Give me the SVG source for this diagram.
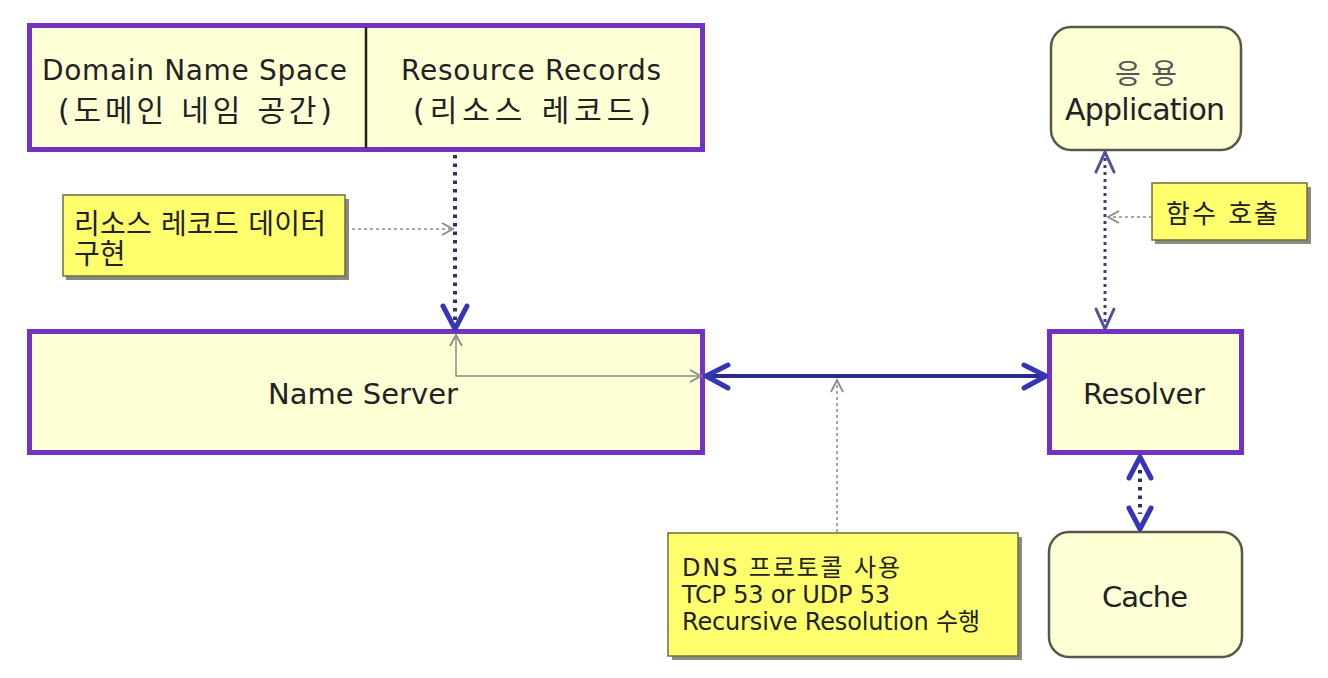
<svg xmlns="http://www.w3.org/2000/svg" width="1328" height="678" viewBox="0 0 1328 678">
<defs>
<style>
.box{fill:#FFFFD6;stroke:#7432C2;stroke-width:5}
.rbox{fill:#FFFFD6;stroke:#58584a;stroke-width:2.5}
.note{fill:#FFFF6E;stroke:#6E6E40;stroke-width:1.5}
.shadow{fill:#8a8a80}
.t{font-family:"DejaVu Sans","Noto Sans CJK KR",sans-serif;fill:#222;text-anchor:middle}
.tl{font-family:"DejaVu Sans","Noto Sans CJK KR",sans-serif;fill:#222}
.blueline{stroke:#2A2A88;stroke-width:4;fill:none}
.dotline{stroke:#303068;stroke-width:4;stroke-dasharray:3.5 5;fill:none;stroke-linecap:butt}
.dotthin{stroke:#404070;stroke-width:3;stroke-dasharray:3 4;fill:none}
.gray{stroke:#8a8a8a;stroke-width:1.5;fill:none}
.graydash{stroke:#8a8a8a;stroke-width:1.5;stroke-dasharray:3 3;fill:none}
.head{stroke:#3535B5;stroke-width:5;fill:none;stroke-linecap:round;stroke-linejoin:round}
.headthin{stroke:#50509A;stroke-width:3;fill:none;stroke-linecap:round;stroke-linejoin:round}
.ghead{stroke:#8a8a8a;stroke-width:1.8;fill:none}
</style>
</defs>
<rect width="1328" height="678" fill="#ffffff"/>

<g id="top-box">
<rect class="box" x="29.5" y="25.5" width="673" height="124"/>
<line x1="366" y1="27" x2="366" y2="148" stroke="#222" stroke-width="2.5"/>
<text class="t" x="194.5" y="80" font-size="28" textLength="305">Domain Name Space</text>
<text class="t" x="195" y="121" font-size="30" textLength="274">(도메인 네임 공간)</text>
<text class="t" x="531" y="80" font-size="28" textLength="260">Resource Records</text>
<text class="t" x="532" y="121" font-size="30" textLength="238">(리소스 레코드)</text>
</g>

<g id="application">
<rect class="rbox" x="1051" y="27" width="190" height="123" rx="20"/>
<text class="t" x="1146" y="84" font-size="28" textLength="62" style="fill:#555">응용</text>
<text class="t" x="1145" y="120" font-size="30" textLength="160">Application</text>
</g>

<g id="note-resource">
<rect class="shadow" x="66" y="199" width="283" height="81"/>
<rect class="note" x="63" y="195" width="282" height="81"/>
<text class="tl" x="74" y="234" font-size="28" textLength="252">리소스 레코드 데이터</text>
<text class="tl" x="74" y="264" font-size="28">구현</text>
</g>

<g id="note-call">
<rect class="shadow" x="1155" y="187" width="156" height="57"/>
<rect class="note" x="1152" y="183" width="155" height="57"/>
<text class="tl" x="1166" y="223" font-size="26" textLength="112">함수 호출</text>
</g>

<g id="name-server">
<rect class="box" x="29.5" y="331.5" width="673" height="121"/>
<text class="t" x="363" y="404" font-size="29" textLength="190">Name Server</text>
</g>

<g id="resolver">
<rect class="box" x="1049.5" y="331.5" width="192" height="121"/>
<text class="t" x="1144" y="404" font-size="29" textLength="122">Resolver</text>
</g>

<g id="cache">
<rect class="rbox" x="1049" y="532" width="193" height="125" rx="20"/>
<text class="t" x="1145" y="607" font-size="29" textLength="86">Cache</text>
</g>

<g id="note-dns">
<rect class="shadow" x="672" y="537" width="350" height="123"/>
<rect class="note" x="668" y="533" width="350" height="123"/>
<text class="tl" x="682" y="576" font-size="24" textLength="218">DNS 프로토콜 사용</text>
<text class="tl" x="682" y="603" font-size="24" textLength="208">TCP 53 or UDP 53</text>
<text class="tl" x="682" y="630" font-size="24" textLength="298">Recursive Resolution 수행</text>
</g>

<g id="connectors">
<line class="dotline" x1="455" y1="155" x2="455" y2="322"/>
<polyline class="head" points="443,306 455,329 467,306"/>
<line class="graydash" x1="346" y1="229" x2="452" y2="229"/>
<polyline class="ghead" points="442,223 453,229 442,235"/>
<polyline class="gray" points="456,335 456,376 700,376"/>
<polyline class="ghead" points="450,346 456,335 462,346"/>
<polyline class="ghead" points="690,370 701,376 690,382"/>
<line class="blueline" x1="706" y1="376" x2="1046" y2="376"/>
<polyline class="head" points="728,365 706,376 728,388"/>
<polyline class="head" points="1024,365 1046,376 1024,388"/>
<line class="graydash" x1="837" y1="532" x2="837" y2="381"/>
<polyline class="ghead" points="831,392 837,380 843,392"/>
<line class="dotthin" x1="1105" y1="158" x2="1105" y2="324"/>
<polyline class="headthin" points="1096,172 1105,152 1114,172"/>
<polyline class="headthin" points="1096,309 1105,329 1114,309"/>
<line class="graydash" x1="1152" y1="217" x2="1109" y2="217"/>
<polyline class="ghead" points="1119,211 1108,217 1119,223"/>
<line class="dotline" x1="1140" y1="470" x2="1140" y2="514"/>
<polyline class="head" points="1129,478 1140,457 1151,478"/>
<polyline class="head" points="1129,508 1140,529 1151,508"/>
</g>
</svg>
